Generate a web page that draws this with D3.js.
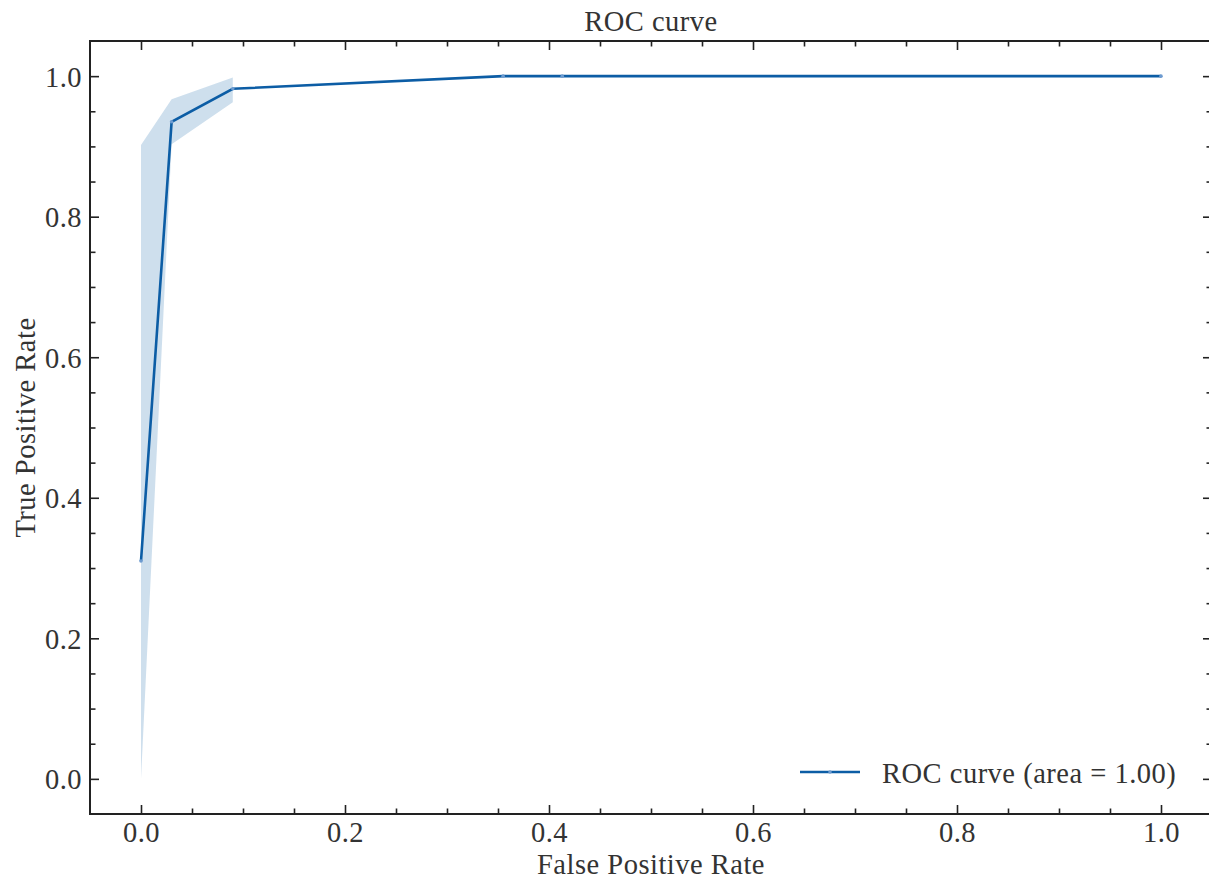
<!DOCTYPE html>
<html>
<head>
<meta charset="utf-8">
<script src="https://cdn.jsdelivr.net/npm/d3@7"></script>
<style>
  body { margin: 0; background: #fff; }
  svg text { font-family: "Liberation Serif", "DejaVu Serif", serif; fill: #333; letter-spacing: 0.5px; }
</style>
</head>
<body>
<div id="chart"></div>
<script>
// ROC points (mean curve)
var fpr = [0, 0.03, 0.09, 0.355, 0.413, 1.0];
var tpr = [0.31, 0.935, 0.982, 1.0, 1.0, 1.0];
// confidence band, only where there are several samples
var bandX = [0, 0.03, 0.09];
var bandLow = [0.0, 0.903, 0.963];
var bandHigh = [0.902, 0.967, 0.998];
var majorTicks = [0, 0.2, 0.4, 0.6, 0.8, 1.0];
var minorTicks = d3.range(0, 21).map(d => d * 0.05).filter(d => Math.round(d * 100) % 20 != 0);
var legendLabel = "ROC curve (area = 1.00)";

var svgWidth = 1209, svgHeight = 883;
var plotLeft = 90, plotRight = 1212, plotTop = 41, plotBottom = 814;
var color = "#0C5DA5";
var fontSize = 28.5;

var svg = d3.select("#chart").append("svg")
    .attr("width", svgWidth)
    .attr("height", svgHeight);

var x = d3.scaleLinear().domain([-0.05, 1.05]).range([plotLeft, plotRight]);
var y = d3.scaleLinear().domain([-0.05, 1.05]).range([plotBottom, plotTop]);

// band
var bandData = bandX.map((d, i) => ({x: d, lo: bandLow[i], hi: bandHigh[i]}));
svg.append("path")
    .datum(bandData)
    .attr("fill", color)
    .attr("fill-opacity", 0.2)
    .attr("d", d3.area().x(d => x(d.x)).y0(d => y(d.lo)).y1(d => y(d.hi)));

// line
var lineData = fpr.map((d, i) => ({x: d, y: tpr[i]}));
svg.append("path")
    .datum(lineData)
    .attr("fill", "none")
    .attr("stroke", color)
    .attr("stroke-width", 2.6)
    .attr("d", d3.line().x(d => x(d.x)).y(d => y(d.y)));

svg.selectAll("circle.pt").data(lineData).enter().append("circle")
    .attr("class", "pt")
    .attr("cx", d => x(d.x))
    .attr("cy", d => y(d.y))
    .attr("r", 1.8)
    .attr("fill", "#6d9bd0");

// axes with inward ticks
function styleAxis(g) {
    g.select(".domain").remove();
    g.selectAll("line").attr("stroke", "#222").attr("stroke-width", 1.6);
    g.selectAll("text").style("font-size", fontSize + "px");
}

svg.append("g").attr("transform", `translate(0, ${plotBottom})`)
    .call(d3.axisBottom(x).tickValues(majorTicks).tickSize(-9).tickFormat(d3.format(".1f")))
    .call(styleAxis)
    .call(g => g.selectAll("text").attr("y", 28).attr("dy", null));
svg.append("g").attr("transform", `translate(0, ${plotBottom})`)
    .call(d3.axisBottom(x).tickValues(minorTicks).tickSize(-5.5).tickFormat(""))
    .call(styleAxis);
svg.append("g").attr("transform", `translate(0, ${plotTop})`)
    .call(d3.axisTop(x).tickValues(majorTicks).tickSize(-9).tickFormat(""))
    .call(styleAxis);
svg.append("g").attr("transform", `translate(0, ${plotTop})`)
    .call(d3.axisTop(x).tickValues(minorTicks).tickSize(-5.5).tickFormat(""))
    .call(styleAxis);

svg.append("g").attr("transform", `translate(${plotLeft}, 0)`)
    .call(d3.axisLeft(y).tickValues(majorTicks).tickSize(-9).tickFormat(d3.format(".1f")))
    .call(styleAxis)
    .call(g => g.selectAll("text").attr("x", -8).attr("dy", 10));
svg.append("g").attr("transform", `translate(${plotLeft}, 0)`)
    .call(d3.axisLeft(y).tickValues(minorTicks).tickSize(-5.5).tickFormat(""))
    .call(styleAxis);
svg.append("g").attr("transform", `translate(${plotRight}, 0)`)
    .call(d3.axisRight(y).tickValues(majorTicks).tickSize(-9).tickFormat(""))
    .call(styleAxis);
svg.append("g").attr("transform", `translate(${plotRight}, 0)`)
    .call(d3.axisRight(y).tickValues(minorTicks).tickSize(-5.5).tickFormat(""))
    .call(styleAxis);

// frame
svg.append("rect")
    .attr("x", plotLeft).attr("y", plotTop)
    .attr("width", plotRight - plotLeft).attr("height", plotBottom - plotTop)
    .attr("fill", "none")
    .attr("stroke", "#222")
    .attr("stroke-width", 2);

// titles
svg.append("text")
    .attr("x", (plotLeft + plotRight) / 2).attr("y", 31)
    .attr("text-anchor", "middle")
    .style("font-size", fontSize + "px")
    .text("ROC curve");

svg.append("text")
    .attr("x", (plotLeft + plotRight) / 2).attr("y", 874)
    .attr("text-anchor", "middle")
    .style("font-size", fontSize + "px")
    .text("False Positive Rate");

svg.append("text")
    .attr("transform", `translate(35, ${(plotTop + plotBottom) / 2}) rotate(-90)`)
    .attr("text-anchor", "middle")
    .style("font-size", fontSize + "px")
    .text("True Positive Rate");

// legend
var legend = svg.append("g").attr("transform", "translate(800, 772)");
legend.append("line")
    .attr("x1", 0).attr("x2", 60)
    .attr("stroke", color)
    .attr("stroke-width", 2.6);
legend.append("circle").attr("cx", 30).attr("r", 1.8).attr("fill", "#6d9bd0");
legend.append("text")
    .attr("x", 82).attr("y", 11)
    .style("font-size", fontSize + "px")
    .text(legendLabel);
</script>
</body>
</html>
